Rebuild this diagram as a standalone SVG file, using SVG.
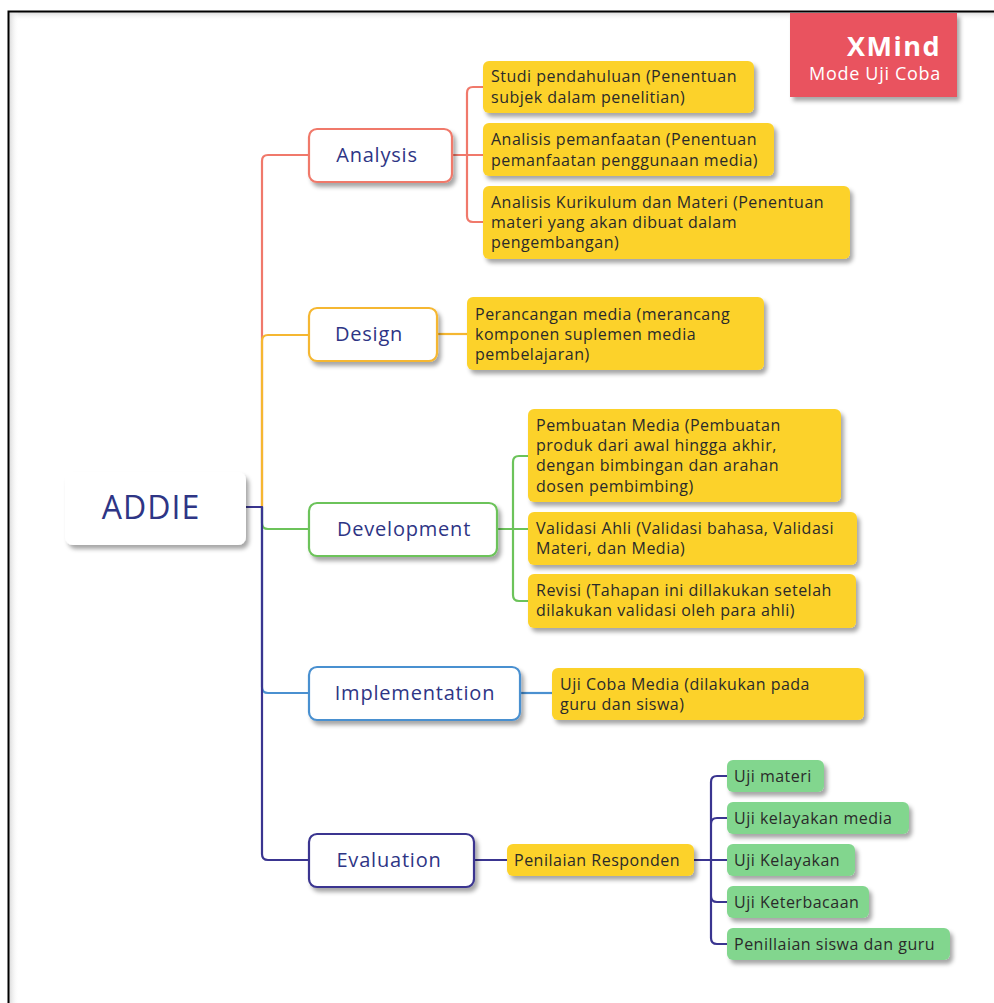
<svg xmlns="http://www.w3.org/2000/svg" width="994" height="1003" viewBox="0 0 994 1003">
<defs>
  <filter id="sh" x="-10%" y="-20%" width="130%" height="160%">
    <feDropShadow dx="3" dy="4" stdDeviation="2.2" flood-color="#000" flood-opacity="0.35"/>
  </filter>
  <linearGradient id="gt" x1="0" y1="0" x2="0" y2="1">
    <stop offset="0" stop-color="#d8d8d8"/><stop offset="1" stop-color="#fff" stop-opacity="0"/>
  </linearGradient>
  <linearGradient id="gl" x1="0" y1="0" x2="1" y2="0">
    <stop offset="0" stop-color="#d8d8d8"/><stop offset="1" stop-color="#fff" stop-opacity="0"/>
  </linearGradient>
</defs>
<style>
  .main{fill:#fff;stroke-width:2.2;filter:url(#sh)}
  .mt{font-family:"Open Sans","Liberation Sans",sans-serif;font-size:20px;letter-spacing:0.8px;fill:#2E3585;text-anchor:middle}
  .y{fill:#FCD22C;filter:url(#sh)}
  .g{fill:#82D68E;filter:url(#sh)}
  .t{font-family:"Open Sans","Liberation Sans",sans-serif;font-size:16px;letter-spacing:0.5px;fill:#2a2a2a}
  .c{fill:none;stroke-width:2.2;stroke-linejoin:round}
</style>
<rect width="994" height="1003" fill="#fff"/>
<g id="frame">
  <rect x="9" y="12" width="985" height="9" fill="url(#gt)"/>
  <rect x="9" y="12" width="10" height="991" fill="url(#gl)"/>
  <path d="M8.5,1003 V11.5 H994" fill="none" stroke="#000" stroke-width="2"/>
</g>
<g id="badge">
  <rect x="790" y="13" width="167" height="84" fill="#E9535E" filter="url(#sh)"/>
  <text x="941" y="56" font-family="Open Sans, Liberation Sans, sans-serif" font-size="27" font-weight="bold" letter-spacing="1.5" fill="#fff" text-anchor="end">XMind</text>
  <text x="941" y="80" font-family="Open Sans, Liberation Sans, sans-serif" font-size="18" letter-spacing="0.7" fill="#fff" text-anchor="end">Mode Uji Coba</text>
</g>
<g id="connectors">
  <path class="c" stroke="#F0796B" d="M246,507 H262 V161 Q262,155 268,155 H309"/>
  <path class="c" stroke="#F5B731" d="M246,507 H262 V341 Q262,335 268,335 H309"/>
  <path class="c" stroke="#4A90D0" d="M246,507 H262 V687 Q262,693 268,693 H309"/>
  <path class="c" stroke="#6CC35A" d="M262,507 V523 Q262,529 268,529 H309"/>
  <path class="c" stroke="#3A3590" d="M246,507 H262 V854 Q262,860 268,860 H309"/>
  <path class="c" stroke="#F0796B" d="M452,155 H483 M467,155 V93 Q467,87 473,87 H483 M467,155 V216 Q467,222 473,222 H483"/>
  <path class="c" stroke="#F5B731" d="M437,334 H467"/>
  <path class="c" stroke="#6CC35A" d="M497,529 H528 M513,529 V462 Q513,456 519,456 H528 M513,529 V595 Q513,601 519,601 H528"/>
  <path class="c" stroke="#4A90D0" d="M520,693 H552"/>
  <path class="c" stroke="#3A3590" d="M474,860 H507"/>
  <path class="c" stroke="#3A3590" d="M694,860 H727 M711,860 V782 Q711,776 717,776 H727 M711,824 Q711,818 717,818 H727 M711,860 V938 Q711,944 717,944 H727 M711,896 Q711,902 717,902 H727"/>
</g>
<g id="root">
  <rect x="65" y="472" width="181" height="73" rx="8" fill="#fff" filter="url(#sh)"/>
  <text x="151" y="519" font-family="Open Sans, Liberation Sans, sans-serif" font-size="32" letter-spacing="1" fill="#2E3585" text-anchor="middle">ADDIE</text>
</g>
<g id="analysis">
  <rect class="main" stroke="#F0796B" x="309" y="129" width="143" height="53" rx="8"/>
  <text class="mt" x="377" y="162">Analysis</text>
</g>
<g id="design">
  <rect class="main" stroke="#F5B731" x="309" y="308" width="128" height="53" rx="8"/>
  <text class="mt" x="369" y="341">Design</text>
</g>
<g id="development">
  <rect class="main" stroke="#6CC35A" x="309" y="503" width="188" height="53" rx="8"/>
  <text class="mt" x="404" y="536">Development</text>
</g>
<g id="implementation">
  <rect class="main" stroke="#4A90D0" x="309" y="667" width="211" height="53" rx="8"/>
  <text class="mt" x="415" y="700">Implementation</text>
</g>
<g id="evaluation">
  <rect class="main" stroke="#3A3590" x="309" y="834" width="165" height="53" rx="8"/>
  <text class="mt" x="389" y="867">Evaluation</text>
</g>
<g id="a1">
  <rect class="y" x="483" y="61" width="271" height="52" rx="6"/>
  <text class="t" x="491" y="82">Studi pendahuluan (Penentuan</text>
  <text class="t" x="491" y="103">subjek dalam penelitian)</text>
</g>
<g id="a2">
  <rect class="y" x="483" y="123" width="291" height="53" rx="6"/>
  <text class="t" x="491" y="145">Analisis pemanfaatan (Penentuan</text>
  <text class="t" x="491" y="166">pemanfaatan penggunaan media)</text>
</g>
<g id="a3">
  <rect class="y" x="483" y="186" width="367" height="73" rx="6"/>
  <text class="t" x="491" y="208">Analisis Kurikulum dan Materi (Penentuan</text>
  <text class="t" x="491" y="228">materi yang akan dibuat dalam</text>
  <text class="t" x="491" y="248">pengembangan)</text>
</g>
<g id="d1">
  <rect class="y" x="467" y="297" width="297" height="73" rx="6"/>
  <text class="t" x="475" y="320">Perancangan media (merancang</text>
  <text class="t" x="475" y="340">komponen suplemen media</text>
  <text class="t" x="475" y="360">pembelajaran)</text>
</g>
<g id="dv1">
  <rect class="y" x="528" y="409" width="313" height="93" rx="6"/>
  <text class="t" x="536" y="431">Pembuatan Media (Pembuatan</text>
  <text class="t" x="536" y="451">produk dari awal hingga akhir,</text>
  <text class="t" x="536" y="471">dengan bimbingan dan arahan</text>
  <text class="t" x="536" y="492">dosen pembimbing)</text>
</g>
<g id="dv2">
  <rect class="y" x="528" y="512" width="329" height="53" rx="6"/>
  <text class="t" x="536" y="534">Validasi Ahli (Validasi bahasa, Validasi</text>
  <text class="t" x="536" y="554">Materi, dan Media)</text>
</g>
<g id="dv3">
  <rect class="y" x="528" y="574" width="328" height="54" rx="6"/>
  <text class="t" x="536" y="596">Revisi (Tahapan ini dillakukan setelah</text>
  <text class="t" x="536" y="616">dilakukan validasi oleh para ahli)</text>
</g>
<g id="i1">
  <rect class="y" x="552" y="668" width="312" height="52" rx="6"/>
  <text class="t" x="560" y="690">Uji Coba Media (dilakukan pada</text>
  <text class="t" x="560" y="710">guru dan siswa)</text>
</g>
<g id="e1">
  <rect class="y" x="507" y="844" width="187" height="32" rx="6"/>
  <text class="t" x="514" y="866">Penilaian Responden</text>
</g>
<g id="g1">
  <rect class="g" x="727" y="760" width="97" height="32" rx="6"/>
  <text class="t" x="734" y="782">Uji materi</text>
</g>
<g id="g2">
  <rect class="g" x="727" y="802" width="182" height="32" rx="6"/>
  <text class="t" x="734" y="824">Uji kelayakan media</text>
</g>
<g id="g3">
  <rect class="g" x="727" y="844" width="128" height="32" rx="6"/>
  <text class="t" x="734" y="866">Uji Kelayakan</text>
</g>
<g id="g4">
  <rect class="g" x="727" y="886" width="142" height="32" rx="6"/>
  <text class="t" x="734" y="908">Uji Keterbacaan</text>
</g>
<g id="g5">
  <rect class="g" x="727" y="928" width="223" height="32" rx="6"/>
  <text class="t" x="734" y="950">Penillaian siswa dan guru</text>
</g>
</svg>
